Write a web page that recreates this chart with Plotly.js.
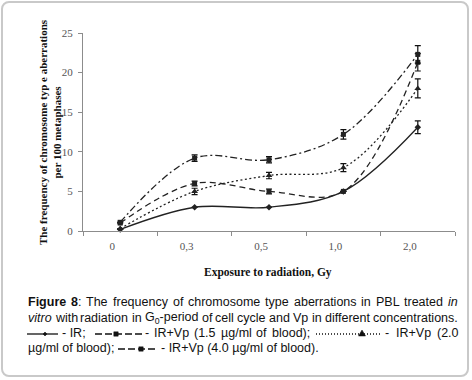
<!DOCTYPE html>
<html>
<head>
<meta charset="utf-8">
<script src="https://cdn.plot.ly/plotly-3.0.1.min.js"></script>
<style>
  html, body { margin: 0; padding: 0; background: #fff; }
  #wrap { position: relative; width: 472px; height: 380px; }
  #chart { width: 472px; height: 380px; }
  #frame { position: absolute; left: 1px; top: 1px; width: 464px; height: 372px;
           border: 2px solid #c9c9c9; border-radius: 8px; pointer-events: none; }
</style>
</head>
<body>
<div id="wrap"><div id="chart"></div><div id="frame"></div></div>
<script>
// ---- data ----
const categories = ['0', '0,3', '0,5', '1,0', '2,0'];
const irValues   = [0.2, 3.0, 3.0, 5.0, 13.1];
const irErr      = [null, null, null, null, 0.8];
const vp15Values = [1.0, 6.0, 5.0, 5.0, 21.3];
const vp15Err    = [null, 0.3, 0.3, null, 1.1];
const vp20Values = [0.3, 5.0, 7.0, 8.0, 18.0];
const vp20Err    = [null, 0.4, 0.4, 0.5, 1.2];
const vp40Values = [1.1, 9.2, 9.0, 12.2, 22.3];
const vp40Err    = [null, 0.4, 0.4, 0.6, 1.1];
const seriesNames = ['IR', 'IR+Vp (1.5 µg/ml of blood)', 'IR+Vp (2.0 µg/ml of blood)', 'IR+Vp (4.0 µg/ml of blood)'];

// caption words: each word is a list of [text, style] parts (b = bold, i = italic, s = subscript)
const captionLine1 = [
  [['Figure', 'b']], [['8', 'b'], [':', '']], [['The', '']], [['frequency', '']], [['of', '']],
  [['chromosome', '']], [['type', '']], [['aberrations', '']], [['in', '']], [['PBL', '']],
  [['treated', '']], [['in', 'i']]
];
const captionLine2 = [
  [['vitro', 'i']], [['with', '']], [['radiation', '']], [['in', '']], [['G', ''], ['0', 's'], ['-period', '']],
  [['of', '']], [['cell', '']], [['cycle', '']], [['and', '']], [['Vp', '']], [['in', '']],
  [['different', '']], [['concentrations.', '']]
];

// ---- layout geometry (pixels) ----
const W = 472, H = 380;
const L = 83, R = 455, T = 33, B = 231;
const X = px => (px - L) / (R - L);
const Y = py => (B - py) / (B - T);

function series(name, y, err, dash, symbol, size) {
  return {
    type: 'scatter', mode: 'lines+markers', name: name,
    x: categories, y: y,
    line: { color: '#222', width: 1.3, dash: dash, shape: 'spline', smoothing: 1 },
    marker: { symbol: symbol, size: size, color: '#222' },
    error_y: { type: 'data', array: err, visible: true, color: '#111', thickness: 1.2, width: 3 },
    cliponaxis: false
  };
}

const traces = [
  series(seriesNames[0], irValues, irErr, 'solid', 'diamond', 5),
  series(seriesNames[1], vp15Values, vp15Err, '6px,4px', 'square', 5),
  series(seriesNames[2], vp20Values, vp20Err, '2px,2.5px', 'triangle-up', 6),
  series(seriesNames[3], vp40Values, vp40Err, '7px,3px,2px,3px', 'square', 5)
];

const serif = 'Liberation Serif, Times New Roman, serif';
const sans = 'Liberation Sans, Arial, sans-serif';
const CAP = 12.5;
const capFont = { family: sans, size: CAP, color: '#111' };

function txt(text, px, py, anchor) {
  return { text: text, xref: 'paper', yref: 'paper', x: X(px), y: Y(py),
           xanchor: anchor || 'left', yanchor: 'middle', showarrow: false, font: capFont,
           borderpad: 0, borderwidth: 0 };
}

// justify caption text by measuring word widths
const ctx = document.createElement('canvas').getContext('2d');
function partWidth(t, st) {
  const size = st === 's' ? CAP * 0.7 : CAP;
  ctx.font = (st === 'i' ? 'italic ' : '') + (st === 'b' ? 'bold ' : '') + size + 'px "Liberation Sans"';
  return ctx.measureText(t).width;
}
function partHtml(t, st) {
  if (st === 'b') return '<b>' + t + '</b>';
  if (st === 'i') return '<i>' + t + '</i>';
  if (st === 's') return '<sub>' + t + '</sub>';
  return t;
}
function justify(words, x0, x1, py) {
  const widths = words.map(w => w.reduce((s, p) => s + partWidth(p[0], p[1]), 0));
  const total = widths.reduce((a, b) => a + b, 0);
  const gap = (x1 - x0 - total) / (words.length - 1);
  let x = x0;
  return words.map((w, k) => {
    const a = txt(w.map(p => partHtml(p[0], p[1])).join(''), x, py, 'left');
    x += widths[k] + gap;
    return a;
  });
}
const plainWords = s => s.split(' ').map(w => [[w, '']]);

const annotations = [
  { text: '<b>The frequency of chromosome typ e aberrations</b><br><b>per 100 metaphases</b>',
    xref: 'paper', yref: 'paper', x: X(50), y: Y(132), xanchor: 'center', yanchor: 'middle',
    textangle: -90, showarrow: false, font: { family: serif, size: 11, color: '#111' } },
  { text: '<b>Exposure to radiation, Gy</b>', xref: 'paper', yref: 'paper',
    x: X(268), y: Y(272), xanchor: 'center', yanchor: 'middle', showarrow: false,
    font: { family: serif, size: 11.5, color: '#111' } },
  ...justify(captionLine1, 28, 458, 302),
  ...justify(captionLine2, 28, 458, 318),
  txt('- IR;', 62, 333),
  ...justify(plainWords('- ' + seriesNames[1] + ';'), 145, 310, 333),
  ...justify(plainWords('- IR+Vp (2.0'), 385, 459, 333),
  txt('µg/ml of blood);', 28, 348),
  txt('- ' + seriesNames[3] + '.', 161, 348)
];

function hline(x0, x1, py, dash) {
  return { type: 'line', xref: 'paper', yref: 'paper', x0: X(x0), x1: X(x1), y0: Y(py), y1: Y(py),
           line: { color: '#111', width: 1.3, dash: dash } };
}
function marker(kind, cx, cy, r) {
  let p;
  if (kind === 'square') {
    p = `M${X(cx - r)},${Y(cy - r)} L${X(cx + r)},${Y(cy - r)} L${X(cx + r)},${Y(cy + r)} L${X(cx - r)},${Y(cy + r)} Z`;
  } else if (kind === 'diamond') {
    p = `M${X(cx)},${Y(cy - r)} L${X(cx + r)},${Y(cy)} L${X(cx)},${Y(cy + r)} L${X(cx - r)},${Y(cy)} Z`;
  } else {
    p = `M${X(cx)},${Y(cy - r - 1)} L${X(cx + r + 1)},${Y(cy + r)} L${X(cx - r - 1)},${Y(cy + r)} Z`;
  }
  return { type: 'path', xref: 'paper', yref: 'paper', path: p,
           fillcolor: '#111', line: { color: '#111', width: 0.5 } };
}

const shapes = [
  hline(27, 58, 334, 'solid'), marker('diamond', 45, 334, 2),
  hline(95, 142, 334, '7px,3px'), marker('square', 116, 334, 2.2),
  hline(316, 380, 334, '1px,2px'), marker('triangle', 362, 333.5, 2.5),
  hline(118, 158, 349, '7px,3px'), marker('square', 141, 349, 2.2)
];

const layout = {
  width: W, height: H,
  margin: { l: L, r: W - R, t: T, b: H - B, pad: 0 },
  paper_bgcolor: '#fff', plot_bgcolor: '#fff',
  showlegend: false,
  xaxis: {
    type: 'category', range: [-0.5, 4.5], autorange: false,
    showgrid: false, zeroline: false,
    showline: true, linecolor: '#8c8c8c', linewidth: 1,
    ticks: 'outside', tickson: 'boundaries', ticklen: 4, tickcolor: '#8c8c8c',
    tickfont: { family: serif, size: 11, color: '#555' }, ticklabelshift: -8, ticklabelstandoff: 5
  },
  yaxis: {
    range: [0, 25], dtick: 5, showgrid: false, zeroline: false,
    showline: true, linecolor: '#8c8c8c', linewidth: 1,
    ticks: 'outside', ticklen: 4, tickcolor: '#8c8c8c',
    tickfont: { family: serif, size: 11, color: '#555' }, ticklabelstandoff: 3
  },
  annotations: annotations,
  shapes: shapes
};

Plotly.newPlot('chart', traces, layout, { displayModeBar: false, staticPlot: true });
</script>
</body>
</html>
